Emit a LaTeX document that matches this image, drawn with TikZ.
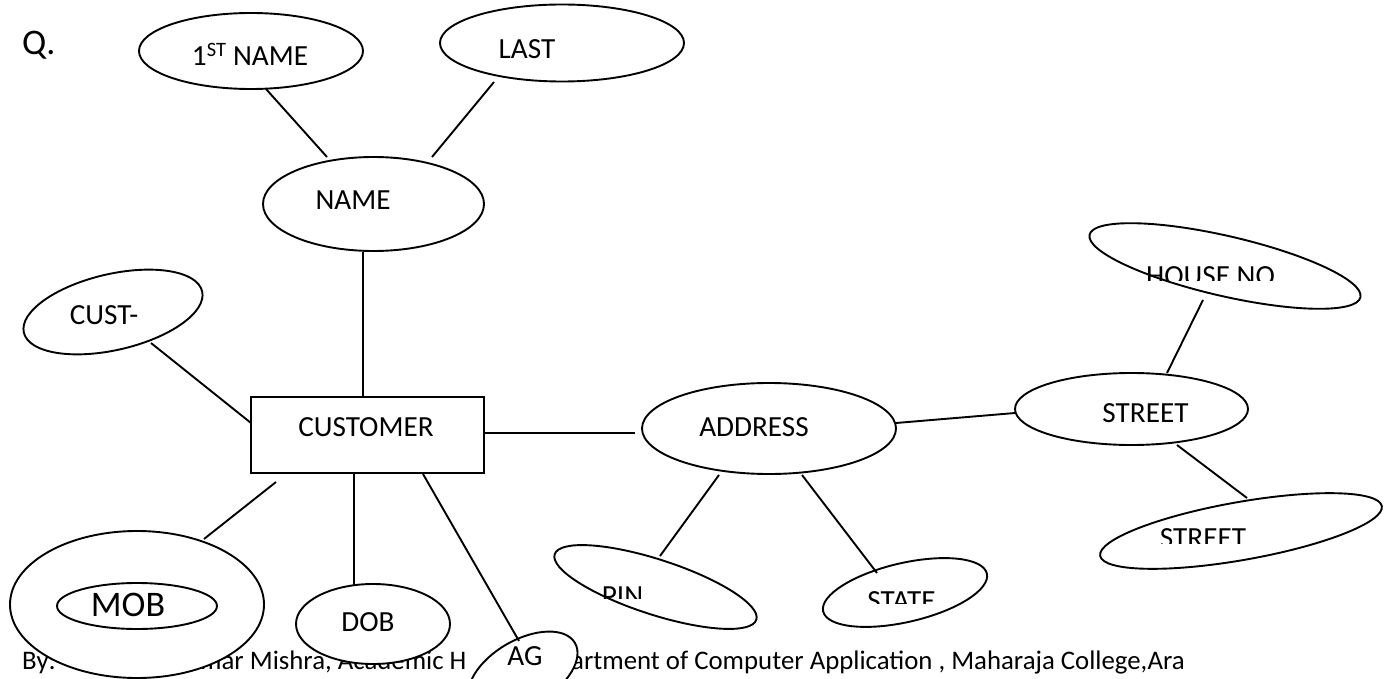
\documentclass[tikz,border=0pt]{standalone}
\usepackage{fontspec}
\setmainfont{Carlito}
\usetikzlibrary{shapes.geometric}
\begin{document}
\begin{tikzpicture}[x=1pt,y=-1pt,
  ell/.style={draw, ellipse, fill=white, line width=1.9pt, inner sep=0pt, outer sep=0pt},
  ebox/.style={draw, rectangle, fill=white, line width=1.9pt, inner sep=0pt, outer sep=0pt},
  lbl/.style={font=\fontsize{29.2}{35}\selectfont, inner sep=0pt, anchor=base},
  big/.style={font=\fontsize{36}{42}\selectfont, inner sep=0pt, anchor=base},
  foot/.style={font=\fontsize{26.8}{32}\selectfont, inner sep=0pt, anchor=base west},
  conn/.style={line width=1.9pt}]
\useasboundingbox (0,0) rectangle (1392,679);
\clip (0,0) rectangle (1392,679);

% footer text (partly covered by ellipses)
\node[foot] (f1) at (22,669) {By:-};
\node[foot] (f2) at (200,669) {mar Mishra, Academic H};
\node[foot] (f3) at (571,669) {artment of Computer Application , Maharaja College,Ara};

% connector end points
\coordinate (fn-e) at (266,89);   \coordinate (name-a) at (327,157);
\coordinate (last-e) at (494,82); \coordinate (name-b) at (432,157);
\coordinate (name-e) at (363,252); \coordinate (cust-n) at (363,397);
\coordinate (cid-e) at (151,343); \coordinate (cust-w) at (251,423);
\coordinate (cust-e) at (484,433); \coordinate (addr-w) at (635,433);
\coordinate (addr-e) at (896,423); \coordinate (str-w) at (1015,413);
\coordinate (house-e) at (1203,300); \coordinate (str-n) at (1167,373);
\coordinate (str-s) at (1177,445); \coordinate (str2-e) at (1247,498);
\coordinate (addr-sw) at (719,475); \coordinate (pin-e) at (660,556);
\coordinate (addr-se) at (802,475); \coordinate (state-e) at (877,573);
\coordinate (cust-sw) at (276,482); \coordinate (mob-e) at (204,539);
\coordinate (cust-s) at (354,474); \coordinate (dob-e) at (354,585);
\coordinate (cust-se) at (423,474); \coordinate (ag-e) at (519,641);

% ellipses and box
\node[ell, minimum width=224pt, minimum height=76pt] (fn) at (251,51) {};
\node[ell, minimum width=244pt, minimum height=77pt] (last) at (562,43) {};
\node[ell, minimum width=221pt, minimum height=94pt] (name) at (373.5,204) {};
\node[ell, minimum width=183pt, minimum height=76pt, rotate=13] (cid) at (113,312) {};
\node[ebox, minimum width=233pt, minimum height=76pt] (cust) at (367.5,435) {};
\node[ell, minimum width=254pt, minimum height=91pt] (addr) at (769,428.5) {};
\node[ell, minimum width=233pt, minimum height=72pt] (street) at (1131.5,409) {};
\node[ell, minimum width=278pt, minimum height=60pt, rotate=-13] (house) at (1225,266) {};
\node[ell, minimum width=286pt, minimum height=58pt, rotate=10] (street2) at (1241,531) {};
\node[ell, minimum width=212pt, minimum height=55pt, rotate=-18] (pin) at (655.5,587) {};
\node[ell, minimum width=168pt, minimum height=59pt, rotate=13] (state) at (905,592.5) {};
\node[ell, minimum width=254pt, minimum height=147pt] (mobo) at (137,604.5) {};
\node[ell, minimum width=160pt, minimum height=46pt] (mobi) at (137,606) {};
\node[ell, minimum width=154pt, minimum height=80pt] (dob) at (373,624) {};
\node[ell, minimum width=120pt, minimum height=66pt, rotate=30] (ag) at (523,673) {};

% connectors
\draw[conn] (fn-e) -- (name-a);
\draw[conn] (last-e) -- (name-b);
\draw[conn] (name-e) -- (cust-n);
\draw[conn] (cid-e) -- (cust-w);
\draw[conn] (cust-e) -- (addr-w);
\draw[conn] (addr-e) -- (str-w);
\draw[conn] (house-e) -- (str-n);
\draw[conn] (str-s) -- (str2-e);
\draw[conn] (addr-sw) -- (pin-e);
\draw[conn] (addr-se) -- (state-e);
\draw[conn] (cust-sw) -- (mob-e);
\draw[conn] (cust-s) -- (dob-e);
\draw[conn] (cust-se) -- (ag-e);

% labels
\node[big, anchor=base west] (q) at (22,55) {Q.};
\node[lbl] (tfn) at (250,66) {1\textsuperscript{ST} NAME};
\node[lbl] (tlast) at (527,59) {LAST};
\node[lbl] (tname) at (353,210) {NAME};
\node[lbl] (tcid) at (104,324) {CUST-};
\node[lbl] (tcust) at (366,436) {CUSTOMER};
\node[lbl] (taddr) at (754,436) {ADDRESS};
\node[lbl] (tstreet) at (1145.5,422) {STREET};
\node[big] (tmob) at (128,616) {MOB};
\node[lbl] (tdob) at (368,631) {DOB};
\node[lbl] (tag) at (525,665) {AG};
\begin{scope}
  \clip (1100,240) rectangle (1320,280);
  \node[lbl] (thouse) at (1210.5,285.5) {HOUSE NO};
\end{scope}
\begin{scope}
  \clip (1140,500) rectangle (1270,543);
  \node[lbl] (tstreet2) at (1203,547.5) {STREET};
\end{scope}
\begin{scope}
  \clip (590,570) rectangle (660,598);
  \node[lbl] (tpin) at (622.5,605.5) {PIN};
\end{scope}
\begin{scope}
  \clip (850,570) rectangle (960,603);
  \node[lbl] (tstate) at (901.5,610) {STATE};
\end{scope}
\end{tikzpicture}
\end{document}
